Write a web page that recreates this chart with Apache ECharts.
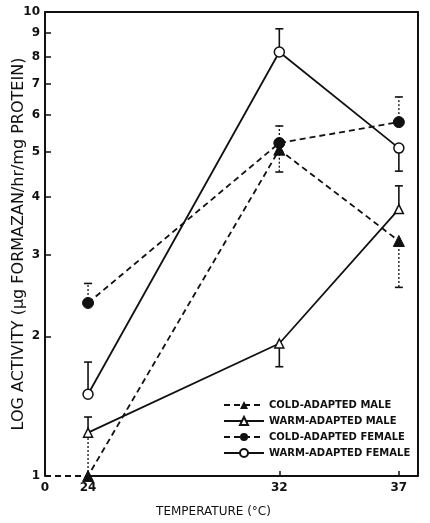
<!DOCTYPE html>
<html>
<head>
<meta charset="utf-8">
<title>Log activity vs temperature</title>
<script src="https://cdn.jsdelivr.net/npm/echarts@6/dist/echarts.min.js"></script>
<style>
    html, body { margin: 0; height: 100%; background: #fff; }
    #chart { width: 430px; height: 523px; }
</style>
</head>
<body>
<div id="chart"></div>
<script>
// temperatures (deg C); the axis is broken between 0 and 24
var axisZero = 22.2;
var axisEnd = 37.8;
var temps = [24, 32, 37];
var xTicks = [24, 32, 37];
var yTicks = [1, 2, 3, 4, 5, 6, 7, 8, 9, 10];

// activity (ug formazan/hr/mg protein)
var coldMale = [1.0, 5.05, 3.21];
var warmMale = [1.24, 1.93, 3.76];
var coldFemale = [2.36, 5.22, 5.79];
var warmFemale = [1.50, 8.2, 5.09];

// far end of each error bar
var coldMaleErr = [1.22, 4.52, 2.55];
var warmMaleErr = [1.34, 1.72, 4.22];
var coldFemaleErr = [2.6, 5.68, 6.56];
var warmFemaleErr = [1.76, 9.2, 4.54];

var font = 'DejaVu Sans';

function pairs(vals) {
    return temps.map(function (t, i) { return [t, vals[i]]; });
}
function errPairs(vals, ends, caps) {
    return temps.map(function (t, i) { return [t, vals[i], ends[i], caps ? caps[i] : 1]; });
}

function errorBars(name, data, dotted) {
    return {
        name: name + ' err',
        type: 'custom',
        z: 1,
        silent: true,
        data: data,
        renderItem: function (params, api) {
            var a = api.coord([api.value(0), api.value(1)]);
            var b = api.coord([api.value(0), api.value(2)]);
            var style = { stroke: '#111', lineWidth: dotted ? 1.3 : 1.6, lineDash: dotted ? [2, 2] : null };
            var kids = [{ type: 'line', shape: { x1: a[0], y1: a[1], x2: b[0], y2: b[1] }, style: style }];
            if (api.value(3)) {
                kids.push({ type: 'line', shape: { x1: b[0] - 4, y1: b[1], x2: b[0] + 4, y2: b[1] },
                    style: { stroke: '#111', lineWidth: 1.6 } });
            }
            return { type: 'group', children: kids };
        }
    };
}

var coldMaleData = [{ value: [axisZero, 1], symbol: 'none' }].concat(pairs(coldMale));

var chart = echarts.init(document.getElementById('chart'));
chart.setOption({
    backgroundColor: '#fff',
    animation: false,
    grid: { left: 45, right: 12, top: 12, bottom: 47, outerBoundsMode: 'none', containLabel: false },
    legend: {
        orient: 'vertical',
        left: 223,
        top: 400,
        padding: 0,
        itemGap: 6,
        itemWidth: 40,
        itemHeight: 10,
        data: ['COLD-ADAPTED MALE', 'WARM-ADAPTED MALE', 'COLD-ADAPTED FEMALE', 'WARM-ADAPTED FEMALE'],
        textStyle: { fontFamily: font, fontSize: 10, fontWeight: 'bold', color: '#111' }
    },
    xAxis: [{
        type: 'value',
        min: axisZero,
        max: axisEnd,
        name: 'TEMPERATURE (°C)',
        nameLocation: 'middle',
        nameGap: 30,
        nameMoveOverlap: false,
        nameTextStyle: { fontFamily: font, fontSize: 12, color: '#111', padding: [0, 36, 0, 0] },
        axisLine: { show: false },
        axisTick: { inside: true, length: 5, customValues: xTicks, lineStyle: { color: '#111', width: 1.5 } },
        axisLabel: {
            customValues: [axisZero].concat(xTicks),
            fontFamily: font, fontSize: 12, fontWeight: 'bold', color: '#111', margin: 6,
            formatter: function (v) { return v < 23 ? '0' : String(v); }
        },
        splitLine: { show: false }
    }, {
        type: 'value',
        position: 'top',
        min: axisZero,
        max: axisEnd,
        axisLine: { lineStyle: { color: '#111', width: 2 } },
        axisTick: { show: false },
        axisLabel: { show: false },
        splitLine: { show: false }
    }],
    yAxis: [{
        type: 'log',
        logBase: 10,
        min: 1,
        max: 10,
        name: 'LOG ACTIVITY (µg FORMAZAN/hr/mg PROTEIN)',
        nameLocation: 'middle',
        nameRotate: 90,
        nameGap: 18,
        nameMoveOverlap: false,
        nameTextStyle: { fontFamily: font, fontSize: 16, color: '#111' },
        axisLine: { lineStyle: { color: '#111', width: 2 } },
        axisTick: { inside: true, length: 6, customValues: yTicks, lineStyle: { color: '#111', width: 1.5 } },
        axisLabel: { customValues: yTicks, fontFamily: font, fontSize: 12, fontWeight: 'bold', color: '#111', margin: 5 },
        splitLine: { show: false }
    }, {
        type: 'log',
        logBase: 10,
        position: 'right',
        min: 1,
        max: 10,
        axisLine: { show: true, lineStyle: { color: '#111', width: 2 } },
        axisTick: { show: false },
        axisLabel: { show: false },
        splitLine: { show: false }
    }],
    series: [
        // bottom axis line: dashed across the break, solid from 24 on
        {
            name: 'axis', type: 'line', silent: true, z: 2, symbol: 'none',
            data: [[temps[0], 1], [axisEnd, 1]],
            lineStyle: { color: '#111', width: 2 }
        },
        errorBars('COLD-ADAPTED MALE', errPairs(coldMale, coldMaleErr, [0, 1, 1]), true),
        errorBars('WARM-ADAPTED MALE', errPairs(warmMale, warmMaleErr), false),
        errorBars('COLD-ADAPTED FEMALE', errPairs(coldFemale, coldFemaleErr), true),
        errorBars('WARM-ADAPTED FEMALE', errPairs(warmFemale, warmFemaleErr), false),
        {
            name: 'COLD-ADAPTED MALE', type: 'line', z: 3, data: coldMaleData,
            symbol: 'triangle', symbolSize: 11,
            lineStyle: { color: '#111', width: 1.8, type: [6, 4] },
            itemStyle: { color: '#111', borderColor: '#111' }
        },
        {
            name: 'WARM-ADAPTED MALE', type: 'line', z: 3, data: pairs(warmMale),
            symbol: 'triangle', symbolSize: 9,
            lineStyle: { color: '#111', width: 1.8 },
            itemStyle: { color: '#fff', borderColor: '#111', borderWidth: 1.5 }
        },
        {
            name: 'COLD-ADAPTED FEMALE', type: 'line', z: 3, data: pairs(coldFemale),
            symbol: 'circle', symbolSize: 11,
            lineStyle: { color: '#111', width: 1.8, type: [6, 4] },
            itemStyle: { color: '#111', borderColor: '#111' }
        },
        {
            name: 'WARM-ADAPTED FEMALE', type: 'line', z: 4, data: pairs(warmFemale),
            symbol: 'circle', symbolSize: 10,
            lineStyle: { color: '#111', width: 1.8 },
            itemStyle: { color: '#fff', borderColor: '#111', borderWidth: 1.5 }
        }
    ]
});
</script>
</body>
</html>
